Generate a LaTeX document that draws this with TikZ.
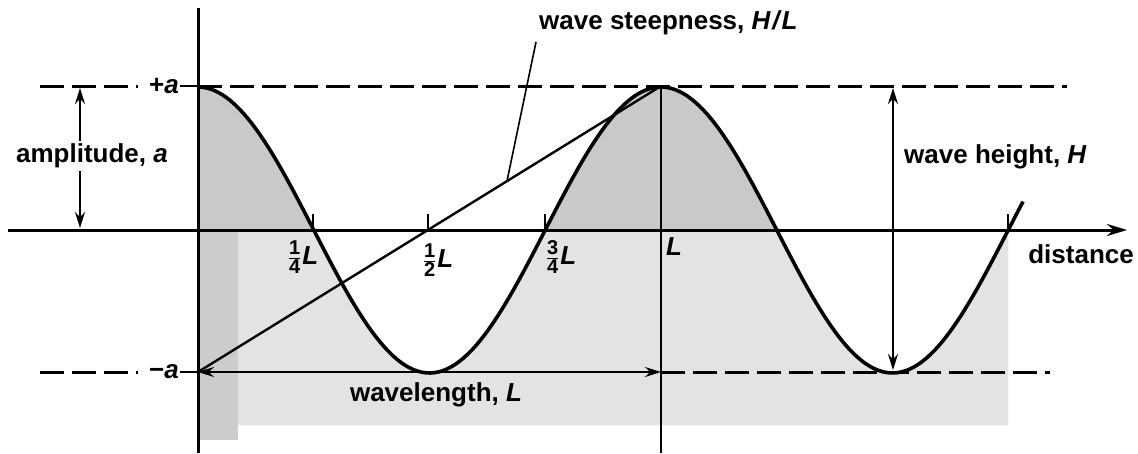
\documentclass[tikz,border=0pt]{standalone}
\usepackage{fontspec}
\setmainfont{Liberation Sans}
\usetikzlibrary{arrows.meta}
\newcommand{\qfr}[2]{\ensuremath{\frac{\mbox{\fontsize{20}{20}\selectfont\bfseries #1}}{\mbox{\fontsize{20}{20}\selectfont\bfseries #2}}}}
\begin{document}
\begin{tikzpicture}[x=1pt,y=-1pt,
  lbl/.style={font=\fontsize{26}{30}\selectfont\bfseries, inner sep=1pt},
  dsh/.style={line width=3pt, dash pattern=on 24pt off 8pt},
  axisline/.style={line width=3pt},
  thinline/.style={line width=2pt},
  wave/.style={line width=3.6pt},
  dbl/.style={line width=2pt, {Stealth[length=16pt,width=10pt]}-{Stealth[length=16pt,width=10pt]}},
  tick/.style={line width=2pt}]
\useasboundingbox (0,0) rectangle (1138,453);
% shading
\fill[gray!22] plot[domain=198:1008, samples=160] (\x,{230-143*cos(0.777538*(\x-198))}) -- (1008,425) -- (198,425) -- cycle;
\begin{scope}
  \clip (198,0) rectangle (1138,230);
  \fill[gray!42] plot[domain=198:1008, samples=160] (\x,{230-143*cos(0.777538*(\x-198))}) -- (1008,230) -- (198,230) -- cycle;
\end{scope}
\fill[gray!40] (198,230) rectangle (238,440);
% key points
\coordinate (top) at (198,8);
\coordinate (bot) at (198,453);
\coordinate (xl) at (8,230);
\coordinate (xr) at (1127,230);
\coordinate (ta) at (198,86);
\coordinate (ba) at (198,372);
\coordinate (crest) at (661,86);
\coordinate (Lbot) at (661,453);
\coordinate (Ltr) at (661,372);
\coordinate (dtopR) at (1067,86);
\coordinate (dbotR) at (1050,372);
\coordinate (dtopL) at (40,86);
\coordinate (dbotL) at (40,372);
\coordinate (ampT) at (80,88);
\coordinate (ampB) at (80,228);
\coordinate (hT) at (893,88);
\coordinate (hB) at (893,370);
\coordinate (lead) at (507,181);
\coordinate (leadtop) at (536,42);
% axes
\draw[axisline] (top) -- (bot);
\draw[axisline, -{Stealth[length=20pt,width=12pt]}] (xl) -- (xr);
% ticks
\foreach \t in {313,428,545,1008} \draw[tick] (\t,214) -- (\t,230);
% L vertical
\draw[thinline] (crest) -- (Lbot);
% labels a
\node[lbl, anchor=east] (pa) at (180,86) {+\textit{a}};
\node[lbl, anchor=east] (ma) at (180,372) {−\textit{a}};
% dashed lines
\draw[dsh] (dtopL) -- ([xshift=-10pt]pa.west);
\draw[dsh] (dbotL) -- ([xshift=-10pt]ma.west);
\draw[thinline] (pa.east) -- (ta);
\draw[thinline] (ma.east) -- (ba);
\draw[dsh] (ta) -- (dtopR);
\draw[dsh] (Ltr) -- (dbotR);
% wave
\draw[wave] plot[domain=198:1023, samples=200] (\x,{230-143*cos(0.777538*(\x-198))});
% steepness
\draw[line width=2.4pt] (ba) -- (crest);
\node[lbl, anchor=south west] (steep) at (538,36) {wave steepness, \textit{H\kern2pt/\kern2pt L}};
\draw[line width=1.6pt] (leadtop) -- (lead);
% amplitude
\draw[dbl] (ampT) -- (ampB);
\node[lbl, fill=white, inner ysep=3pt] (amp) at (92,156) {amplitude, \textit{a}};
% wavelength
\draw[dbl] (ba) -- (Ltr);
\node[lbl] (wl) at (436,395) {wavelength, \textit{L}};
% wave height
\draw[dbl] (hT) -- (hB);
\node[lbl, anchor=west] (wh) at (903,157) {wave height, \textit{H}};
% distance
\node[lbl, anchor=east] (dist) at (1135,254) {distance};
% fractions
\node[lbl] (q1) at (303,257) {\qfr{1}{4}\kern1pt\textit{L}};
\node[lbl] (q2) at (438,260) {\qfr{1}{2}\kern1pt\textit{L}};
\node[lbl] (q3) at (561,257) {\qfr{3}{4}\kern1pt\textit{L}};
\node[lbl] (qL) at (674,247) {\textit{L}};
\end{tikzpicture}
\end{document}
